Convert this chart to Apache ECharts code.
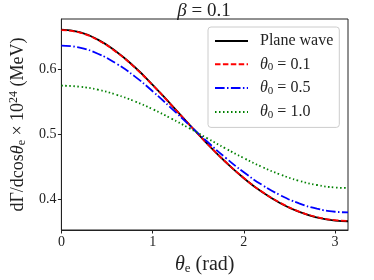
<!DOCTYPE html>
<html>
<head>
<meta charset="utf-8">
<script src="https://cdn.jsdelivr.net/npm/echarts@6/dist/echarts.min.js"></script>
<style>html,body{margin:0;padding:0;background:#fff}#c{width:374px;height:280px}</style>
</head>
<body>
<div id="c"></div>
<script>
var theta = [0, 0.2, 0.4, 0.6, 0.8, 1.0, 1.2, 1.4, 1.6, 1.8, 2.0, 2.2, 2.4, 2.6, 2.8, 3.0, 3.1416];
var planeWave = [0.6605, 0.6567, 0.6452, 0.6270, 0.6034, 0.5757, 0.5456, 0.5148, 0.4847, 0.4567, 0.4318, 0.4104, 0.3933, 0.3802, 0.3714, 0.3665, 0.3655];
var theta01 = [0.6598, 0.6560, 0.6445, 0.6263, 0.6028, 0.5752, 0.5452, 0.5146, 0.4847, 0.4569, 0.4321, 0.4108, 0.3938, 0.3807, 0.3720, 0.3671, 0.3661];
var theta05 = [0.6361, 0.6329, 0.6235, 0.6085, 0.5890, 0.5657, 0.5402, 0.5139, 0.4879, 0.4632, 0.4409, 0.4214, 0.4056, 0.3933, 0.3848, 0.3801, 0.3791];
var theta10 = [0.5743, 0.5727, 0.5681, 0.5605, 0.5504, 0.5381, 0.5240, 0.5089, 0.4932, 0.4776, 0.4627, 0.4491, 0.4374, 0.4280, 0.4213, 0.4175, 0.4167];
var xTicks = [0, 1, 2, 3];
var yTicks = [0.4, 0.5, 0.6];
var seriesNames = ['Plane wave', 'θ0 = 0.1', 'θ0 = 0.5', 'θ0 = 1.0'];

function pairs(ys) { return theta.map(function (t, i) { return [t, ys[i]]; }); }

var FONT = 'Liberation Serif';
var chart = echarts.init(document.getElementById('c'), null, {renderer: 'canvas'});
var lineW = 1.8;
chart.setOption({
  animation: false,
  grid: {left: 60, right: 26, top: 19, bottom: 45, show: true, borderColor: '#222', borderWidth: 1},
  graphic: [{
    type: 'text', x: 204, y: 11,
    style: {text: '{i|β} = 0.1', fontFamily: FONT, fontSize: 19, fill: '#222', align: 'center', verticalAlign: 'middle',
      rich: {i: {fontFamily: FONT, fontStyle: 'italic', fontSize: 19}}}
  }],
  xAxis: {
    type: 'value', min: 0, max: 3.14159,
    axisLine: {show: true, lineStyle: {color: '#222', width: 1}},
    axisTick: {show: true, length: 3.5, inside: false, customValues: xTicks, lineStyle: {color: '#222'}},
    axisLabel: {customValues: xTicks, fontFamily: FONT, fontSize: 14, color: '#222', margin: 5},
    splitLine: {show: false},
    name: '{i|θ}{s|e} (rad)', nameLocation: 'middle', nameGap: 25,
    nameTextStyle: {fontFamily: FONT, fontSize: 20, color: '#222',
      rich: {i: {fontStyle: 'italic', fontSize: 20, fontFamily: FONT}, s: {fontSize: 13, fontFamily: FONT, padding: [7, 0, 0, 0]}}}
  },
  yAxis: {
    type: 'value', min: 0.352, max: 0.677,
    axisLine: {show: true, lineStyle: {color: '#222', width: 1}},
    axisTick: {show: true, length: 3.5, inside: false, customValues: yTicks, lineStyle: {color: '#222'}},
    axisLabel: {customValues: yTicks, fontFamily: FONT, fontSize: 14, color: '#222', margin: 5,
      formatter: function (v) { return v.toFixed(1); }},
    splitLine: {show: false},
    name: 'dΓ/dcos{i|θ}{s|e} × 10{p|24} (MeV)', nameLocation: 'middle', nameGap: 28, nameRotate: 90,
    nameTextStyle: {fontFamily: FONT, fontSize: 18, color: '#222',
      rich: {i: {fontStyle: 'italic', fontSize: 18, fontFamily: FONT}, s: {fontSize: 12, fontFamily: FONT, padding: [7, 0, 0, 0]}, p: {fontSize: 12, fontFamily: FONT, padding: [0, 0, 9, 0]}}}
  },
  legend: {
    orient: 'vertical', left: 208, top: 27, width: 131,
    padding: [6, 6, 7, 6], itemGap: 7.3, itemWidth: 33, itemHeight: 15,
    borderColor: '#ccc', borderWidth: 1, borderRadius: 3, backgroundColor: 'rgba(255,255,255,0.8)',
    itemStyle: {opacity: 0},
    data: seriesNames,
    formatter: function (n) {
      if (n.indexOf('θ0') === 0) { return '{i|θ}{s|0}' + n.slice(2); }
      return n;
    },
    textStyle: {fontFamily: FONT, fontSize: 16, color: '#222', padding: [0, 0, 0, 7],
      rich: {i: {fontStyle: 'italic', fontSize: 16, fontFamily: FONT}, s: {fontSize: 11, fontFamily: FONT, padding: [6, 0, 0, 0]}}}
  },
  series: [
    {name: seriesNames[0], type: 'line', smooth: true, symbol: 'none', data: pairs(planeWave), lineStyle: {color: '#000', width: lineW}, itemStyle: {color: '#000'}},
    {name: seriesNames[1], type: 'line', smooth: true, symbol: 'none', data: pairs(theta01), lineStyle: {color: '#ff0000', width: lineW, type: [5.5, 2.4]}, itemStyle: {color: '#ff0000'}},
    {name: seriesNames[2], type: 'line', smooth: true, symbol: 'none', data: pairs(theta05), lineStyle: {color: '#0000ff', width: lineW, type: [9.6, 2.4, 1.5, 2.4]}, itemStyle: {color: '#0000ff'}},
    {name: seriesNames[3], type: 'line', smooth: true, symbol: 'none', data: pairs(theta10), lineStyle: {color: '#008000', width: lineW, type: [1.5, 2.5]}, itemStyle: {color: '#008000'}}
  ]
});
</script>
</body>
</html>
